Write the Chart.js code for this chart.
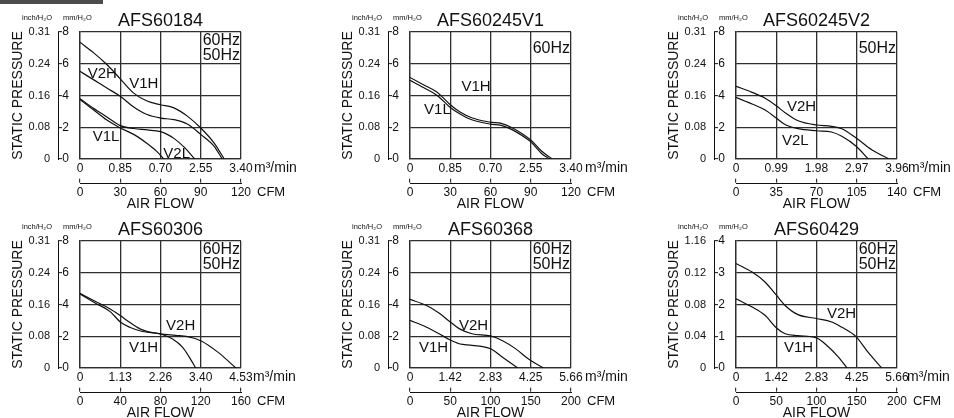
<!DOCTYPE html>
<html>
<head>
<meta charset="utf-8">
<script src="https://cdn.jsdelivr.net/npm/chart.js@4.4.1/dist/chart.umd.min.js"></script>
<style>
html,body{margin:0;padding:0;background:#fff;}
body{width:954px;height:418px;position:relative;overflow:hidden;}
#bar{position:absolute;left:0;top:0;width:103px;height:4px;background:#4d4d4d;}
canvas{position:absolute;}
</style>
</head>
<body>
<div id="bar"></div>
<script>
// ---------- tick labels ----------
const mmTicks8   = ['0','2','4','6','8'];
const inchTicks8 = ['0','0.08','0.16','0.24','0.31'];
const mmTicks4   = ['0','1','2','3','4'];
const inchTicks4 = ['0','0.04','0.08','0.12','1.16'];
const m3TicksA  = ['0','0.85','0.70','2.55','3.40'];
const cfmTicksA = ['0','30','60','90','120'];
const m3TicksB  = ['0','0.99','1.98','2.97','3.96'];
const cfmTicksB = ['0','35','70','105','140'];
const m3TicksC  = ['0','1.13','2.26','3.40','4.53'];
const cfmTicksC = ['0','40','80','120','160'];
const m3TicksD  = ['0','1.42','2.83','4.25','5.66'];
const cfmTicksD = ['0','50','100','150','200'];

// ---------- series (flow in CFM, static pressure in mmH2O) ----------
// AFS60184
const a184_v1h_flow = [0, 10, 20, 30, 40, 50, 60, 70, 80, 90, 100, 107.5];
const a184_v1h_pres = [7.35, 6.7, 5.95, 5.05, 4.15, 3.65, 3.42, 3.22, 2.7, 1.95, 1.0, 0];
const a184_v2h_flow = [0, 10, 20, 30, 40, 50, 60, 70, 80, 90, 100, 106];
const a184_v2h_pres = [5.52, 5.0, 4.47, 3.95, 3.28, 2.8, 2.58, 2.48, 2.2, 1.55, 0.8, 0];
const a184_v2l_flow = [0, 10, 20, 30, 40, 50, 60, 65, 70, 78, 85.5];
const a184_v2l_pres = [3.8, 3.2, 2.65, 2.1, 1.92, 1.83, 1.72, 1.55, 1.3, 0.72, 0];
const a184_v1l_flow = [0, 10, 20, 30, 40, 50, 57, 62.5];
const a184_v1l_pres = [3.75, 3.1, 2.45, 1.95, 1.55, 0.98, 0.5, 0];
// AFS60245V1
const a245v1_v1h_flow = [0, 10, 20, 30, 37, 46, 60, 68, 76, 90, 98, 106];
const a245v1_v1h_pres = [5.14, 4.68, 4.22, 3.42, 2.98, 2.6, 2.32, 2.24, 1.97, 1.2, 0.5, 0];
const a245v1_v1l_flow = [0, 10, 20, 30, 37, 46, 60, 68, 76, 90, 98, 104];
const a245v1_v1l_pres = [4.96, 4.5, 4.02, 3.25, 2.85, 2.47, 2.2, 2.12, 1.85, 1.08, 0.35, 0];
// AFS60245V2
const a245v2_v2h_flow = [0, 14, 25, 35, 43, 54, 70, 83, 92, 104.5, 118, 133];
const a245v2_v2h_pres = [4.58, 4.2, 3.84, 3.35, 2.9, 2.41, 2.14, 2.06, 1.91, 1.32, 0.58, 0];
const a245v2_v2l_flow = [0, 14, 25, 35, 43, 54, 70, 83, 92, 104.5, 115];
const a245v2_v2l_pres = [3.88, 3.46, 3.1, 2.58, 2.16, 1.91, 1.78, 1.7, 1.43, 0.8, 0];
// AFS60306
const a306_v1h_flow = [0, 15, 30, 40, 50, 62, 80, 92, 102, 108, 115];
const a306_v1h_pres = [4.66, 4.1, 3.55, 2.9, 2.55, 2.3, 2.14, 1.82, 1.3, 0.75, 0];
const a306_v2h_flow = [0, 15, 30, 40, 50, 62, 80, 95, 107, 120, 137, 155];
const a306_v2h_pres = [4.7, 4.2, 3.72, 3.3, 2.85, 2.4, 2.15, 2.06, 1.98, 1.72, 1.0, 0];
// AFS60368
const a368_v2h_flow = [0, 20, 36, 50, 61, 77, 100, 115, 131, 149, 166];
const a368_v2h_pres = [4.32, 3.95, 3.46, 2.9, 2.48, 2.16, 2.02, 1.72, 1.22, 0.5, 0];
const a368_v1h_flow = [0, 20, 36, 50, 61, 77, 100, 115, 134];
const a368_v1h_pres = [3.0, 2.58, 2.16, 1.76, 1.53, 1.43, 1.21, 0.68, 0];
// AFS60429
const a429_v2h_flow = [0, 20, 36, 50, 61, 77, 100, 119, 131, 149, 164, 181];
const a429_v2h_pres = [3.29, 3.02, 2.71, 2.3, 1.97, 1.68, 1.56, 1.45, 1.29, 0.99, 0.5, 0];
const a429_v1h_flow = [0, 20, 36, 50, 61, 77, 100, 115, 127, 138];
const a429_v1h_pres = [2.18, 1.92, 1.66, 1.27, 1.08, 1.02, 0.95, 0.66, 0.35, 0];

// ---------- curve name labels (data units: CFM, mmH2O) ----------
const a184_names   = [['V2H', 5.7, 5.37], ['V1H', 36.7, 4.76], ['V1L', 9.5, 1.37], ['V2L', 62.1, 0.35]];
const a245v1_names = [['V1H', 38.3, 4.54], ['V1L', 10.5, 3.09]];
const a245v2_names = [['V2H', 44.3, 3.28], ['V2L', 40, 1.17]];
const a306_names   = [['V2H', 85.5, 2.65], ['V1H', 48.7, 1.26]];
const a368_names   = [['V2H', 60.9, 2.65], ['V1H', 11.2, 1.26]];
const a429_names   = [['V2H', 113, 1.69], ['V1H', 59.6, 0.63]];

const FONT = "'Liberation Sans', Arial, Helvetica, sans-serif";
Chart.defaults.font.family = FONT;
Chart.defaults.color = '#111';

const panels = [
  {title:'AFS60184', left:0, top:0, mm:mmTicks8, inch:inchTicks8, m3:m3TicksA, cfm:cfmTicksA, hz:['60Hz','50Hz'], gap:13,
   curves:[[a184_v1h_flow,a184_v1h_pres],[a184_v2h_flow,a184_v2h_pres],[a184_v2l_flow,a184_v2l_pres],[a184_v1l_flow,a184_v1l_pres]], names:a184_names},
  {title:'AFS60245V1', left:330, top:0, mm:mmTicks8, inch:inchTicks8, m3:m3TicksA, cfm:cfmTicksA, hz:['60Hz'], gap:14,
   curves:[[a245v1_v1h_flow,a245v1_v1h_pres],[a245v1_v1l_flow,a245v1_v1l_pres]], names:a245v1_names},
  {title:'AFS60245V2', left:656, top:0, mm:mmTicks8, inch:inchTicks8, m3:m3TicksB, cfm:cfmTicksB, hz:['50Hz'], gap:11,
   curves:[[a245v2_v2h_flow,a245v2_v2h_pres],[a245v2_v2l_flow,a245v2_v2l_pres]], names:a245v2_names},
  {title:'AFS60306', left:0, top:209, mm:mmTicks8, inch:inchTicks8, m3:m3TicksC, cfm:cfmTicksC, hz:['60Hz','50Hz'], gap:12,
   curves:[[a306_v1h_flow,a306_v1h_pres],[a306_v2h_flow,a306_v2h_pres]], names:a306_names},
  {title:'AFS60368', left:330, top:209, mm:mmTicks8, inch:inchTicks8, m3:m3TicksD, cfm:cfmTicksD, hz:['60Hz','50Hz'], gap:14,
   curves:[[a368_v2h_flow,a368_v2h_pres],[a368_v1h_flow,a368_v1h_pres]], names:a368_names},
  {title:'AFS60429', left:656, top:209, mm:mmTicks4, inch:inchTicks4, m3:m3TicksD, cfm:cfmTicksD, hz:['60Hz','50Hz'], gap:10,
   curves:[[a429_v2h_flow,a429_v2h_pres],[a429_v1h_flow,a429_v1h_pres]], names:a429_names}
];

const annotPlugin = {
  id: 'annot',
  afterDraw(chart, args, o) {
    const {ctx, chartArea, scales} = chart;
    const {left, right, top} = chartArea;
    ctx.save();
    ctx.fillStyle = '#111';
    ctx.textBaseline = 'middle';
    ctx.textAlign = 'left';
    ctx.font = '7.5px ' + FONT;
    ctx.fillText('inch/H\u2082O', left - 58, top - 14);
    ctx.fillText('mm/H\u2082O', left - 17, top - 14);
    ctx.font = '14px ' + FONT;
    ctx.fillText('m\u00B3/min', right + o.gap, scales.x.top + 9);
    ctx.font = '13px ' + FONT;
    ctx.fillText('CFM', right + 16, scales.x2.top + 9);
    ctx.font = '16px ' + FONT;
    ctx.textAlign = 'right';
    const hzY = o.hz.length === 1 ? [17] : [8.5, 23.5];
    o.hz.forEach((t, i) => ctx.fillText(t, right - 1, top + hzY[i]));
    ctx.textAlign = 'left';
    ctx.font = '15px ' + FONT;
    o.names.forEach(n => ctx.fillText(n[0], scales.x.getPixelForValue(n[1]), scales.y.getPixelForValue(n[2])));
    ctx.restore();
  }
};

const GRID = '#2e2e2e';
const INK = '#111';

panels.forEach(P => {
  const cv = document.createElement('canvas');
  cv.width = 300; cv.height = 209;
  cv.style.left = P.left + 'px';
  cv.style.top = P.top + 'px';
  cv.style.width = '300px';
  cv.style.height = '209px';
  document.body.appendChild(cv);
  const xmax = +P.cfm[P.cfm.length - 1], xstep = +P.cfm[1];
  const ymax = +P.mm[P.mm.length - 1], ystep = +P.mm[1];
  new Chart(cv, {
    type: 'line',
    data: {
      datasets: P.curves.map(c => ({
        data: c[0].map((v, i) => ({x: v, y: c[1][i]})),
        borderColor: INK, borderWidth: 1.2, pointRadius: 0,
        cubicInterpolationMode: 'monotone', fill: false
      }))
    },
    options: {
      responsive: false, animation: false, devicePixelRatio: 1,
      layout: {padding: {left: 0, right: 59, top: 0, bottom: 0}},
      plugins: {
        legend: {display: false},
        tooltip: {enabled: false},
        title: {display: true, text: P.title, fullSize: false, color: INK,
                font: {size: 18, weight: 'normal', lineHeight: 1.2}, padding: {top: 10.4, bottom: 0}},
        annot: {hz: P.hz, gap: P.gap, names: P.names}
      },
      scales: {
        // m3/min axis: labels just under the plot; its tick marks are dashed so only
        // the short piece rising from the CFM rule is visible
        x: {type: 'linear', position: 'bottom', weight: 0, min: 0, max: xmax,
            afterFit: s => { s.height = 24; },
            ticks: {stepSize: xstep, autoSkip: false, maxRotation: 0, padding: -22, font: {size: 12}, color: INK,
                    callback: (v, i) => P.m3[i]},
            grid: {color: GRID, lineWidth: 1.3, drawTicks: true, tickLength: 24, tickColor: INK, tickWidth: 1,
                   tickBorderDash: [0, 19.4, 4, 60]},
            border: {color: GRID, width: 1.3}},
        // CFM axis: rule + labels + AIR FLOW title
        x2: {type: 'linear', position: 'bottom', weight: 1, min: 0, max: xmax,
             afterFit: s => { s.height = 26; },
             ticks: {stepSize: xstep, autoSkip: false, maxRotation: 0, padding: 2, font: {size: 12}, color: INK,
                     callback: (v, i) => P.cfm[i]},
             grid: {drawOnChartArea: false, drawTicks: false},
             border: {display: true, color: INK, width: 1},
             title: {display: true, text: 'AIR FLOW', color: INK, font: {size: 14, lineHeight: 1}, padding: {top: 0, bottom: -2}}},
        y: {type: 'linear', position: 'left', weight: 0, min: 0, max: ymax,
            afterFit: s => { s.width = 22; },
            ticks: {stepSize: ystep, autoSkip: false, padding: -11, font: {size: 12}, color: INK,
                    callback: (v, i) => P.mm[i]},
            grid: {color: GRID, lineWidth: 1.3, drawTicks: true, tickLength: 22, tickColor: INK, tickWidth: 1,
                   tickBorderDash: [4, 40]},
            border: {color: GRID, width: 1.3}},
        y2: {type: 'linear', position: 'left', weight: 1, min: 0, max: ymax,
             afterFit: s => { s.width = 58; },
             ticks: {stepSize: ystep, autoSkip: false, padding: 8, font: {size: 11}, color: INK,
                     callback: (v, i) => P.inch[i]},
             grid: {drawOnChartArea: false, drawTicks: false},
             border: {display: true, color: INK, width: 1},
             title: {display: true, text: 'STATIC PRESSURE', color: INK, font: {size: 14, lineHeight: 1}, padding: {top: 10.7, bottom: 0}}}
      }
    },
    plugins: [annotPlugin]
  });
});
</script>
</body>
</html>
